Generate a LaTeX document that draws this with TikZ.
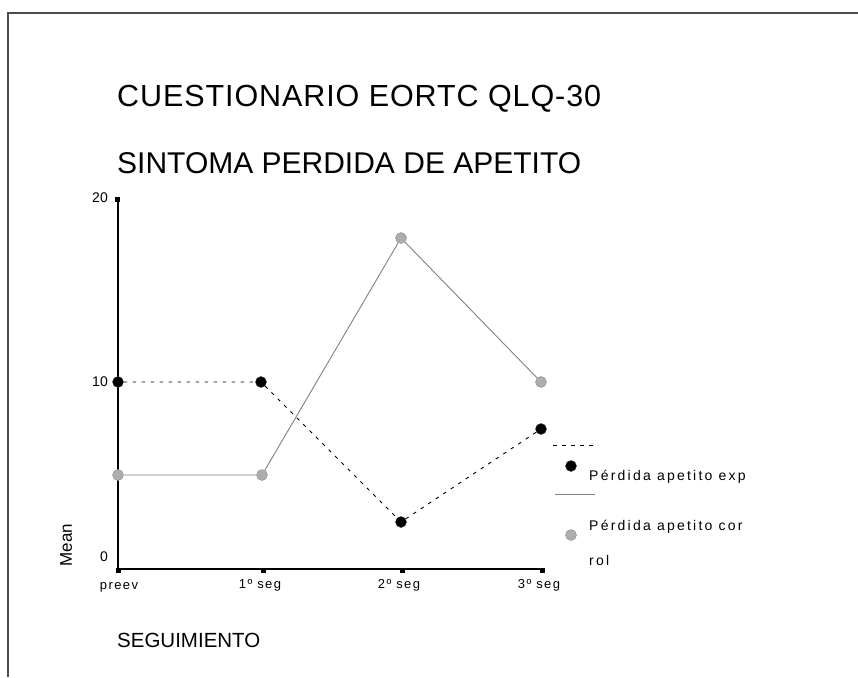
\documentclass[tikz,border=0pt]{standalone}
\usepackage{fontspec}
\setmainfont{Liberation Sans}
\newfontfamily\spaced[LetterSpace=11]{Liberation Sans}
\newfontfamily\legspaced[LetterSpace=16]{Liberation Sans}
\newfontfamily\titlespaced[LetterSpace=3]{Liberation Sans}
\begin{document}
\begin{tikzpicture}[x=1pt,y=-1pt,
  expdot/.style={circle,fill=black,draw=black!80,minimum size=11pt,inner sep=0pt},
  cordot/.style={circle,fill=black!32,draw=black!45,minimum size=11pt,inner sep=0pt},
  expline/.style={black,line width=0.9pt,dash pattern=on 3.5pt off 5.5pt},
  corline/.style={black!50,line width=0.9pt},
  axisline/.style={black,line width=1.3pt},
  tickmark/.style={fill=black,minimum size=5pt,inner sep=0pt},
  ticklab/.style={font=\spaced\fontsize{13}{15}\selectfont,inner sep=0pt},
  title/.style={font=\fontsize{30}{34}\selectfont,anchor=west,inner sep=0pt},
  leglab/.style={font=\legspaced\fontsize{14}{16}\selectfont,anchor=west,inner sep=0pt}]
\useasboundingbox (0,0) rectangle (858,677);
% frame
\draw[black!70,line width=1.5pt] (8,677) -- (8,13) -- (858,13);
% titles
\node[title,font=\titlespaced\fontsize{30.5}{34}\selectfont] (t1) at (117,99) {CUESTIONARIO EORTC QLQ-30};
\node[title] (t2) at (117,163) {SINTOMA PERDIDA DE APETITO};
% axes
\coordinate (o) at (118,569);
\coordinate (ytop) at (118,199);
\coordinate (xend) at (543,569);
\draw[axisline] (ytop) -- (o) -- (xend);
% y ticks
\node[tickmark,anchor=east] (yt20) at (120,199) {};
\node[font=\fontsize{14}{16}\selectfont,anchor=east,inner sep=0pt] (l20) at (108,198) {20};
\node[font=\fontsize{14}{16}\selectfont,anchor=east,inner sep=0pt] (l10) at (108,382) {10};
\node[font=\fontsize{14}{16}\selectfont,anchor=east,inner sep=0pt] (l0) at (108,557) {0};
\node[font=\fontsize{17}{19}\selectfont,rotate=90,inner sep=0pt] (ymean) at (66,545) {Mean};
% x ticks
\node[tickmark,anchor=north] (xt0) at (118,568) {};
\node[tickmark,anchor=north] (xt1) at (263,568) {};
\node[tickmark,anchor=north] (xt2) at (402,568) {};
\node[tickmark,anchor=north] (xt3) at (542,568) {};
\node[ticklab] (xl0) at (119,587) {preev};
\node[ticklab] (xl1) at (260,585) {1º seg};
\node[ticklab] (xl2) at (399,585) {2º seg};
\node[ticklab] (xl3) at (539,585) {3º seg};
\node[font=\fontsize{20.5}{23}\selectfont,anchor=west,inner sep=0pt] (xlab) at (117,640) {SEGUIMIENTO};
% control series
\node[cordot] (c0) at (118,475) {};
\node[cordot] (c1) at (262,475) {};
\node[cordot] (c2) at (401,238) {};
\node[cordot] (c3) at (541,382) {};
\draw[corline] (c0) -- (c1) -- (c2) -- (c3);
% experimental series
\node[expdot] (e0) at (118,382) {};
\node[expdot] (e1) at (261,382) {};
\node[expdot] (e2) at (401,522) {};
\node[expdot] (e3) at (541,429) {};
\draw[expline] (e0) -- (e1) -- (e2) -- (e3);
% legend
\coordinate (la) at (553,445);
\coordinate (lb) at (598,445);
\draw[expline] (la) -- (lb);
\node[expdot] (le) at (571,466) {};
\node[leglab] (lte) at (589,477) {Pérdida apetito exp};
\coordinate (lc) at (555,494);
\coordinate (ld) at (595,494);
\draw[corline] (lc) -- (ld);
\node[cordot] (lcd) at (571,535) {};
\node[leglab] (ltc) at (589,527) {Pérdida apetito cor};
\node[leglab] (ltc2) at (589,560) {rol};
\end{tikzpicture}
\end{document}
